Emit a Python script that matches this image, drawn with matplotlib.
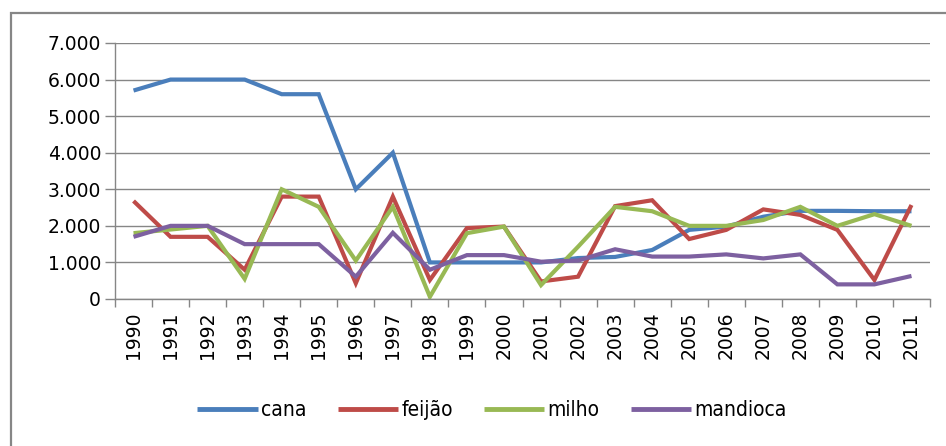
import matplotlib
matplotlib.use("Agg")
import matplotlib.pyplot as plt
from matplotlib.patches import Rectangle
from matplotlib.ticker import FuncFormatter, FixedLocator
from matplotlib import font_manager as fm

years = [str(y) for y in range(1990, 2012)]
cana = [5700, 6000, 6000, 6000, 5600, 5600, 3000, 4000, 1000, 1000, 1000,
        1000, 1120, 1150, 1340, 1890, 1980, 2250, 2410, 2410, 2400, 2400]
feijao = [2680, 1700, 1700, 800, 2800, 2800, 430, 2800, 520, 1940, 1980,
          480, 610, 2540, 2700, 1640, 1890, 2450, 2300, 1890, 520, 2570]
milho = [1800, 1900, 2000, 550, 3000, 2520, 1050, 2520, 60, 1800, 1980,
         380, 1430, 2520, 2400, 2000, 2000, 2160, 2520, 2000, 2320, 2000]
mandioca = [1700, 2000, 2000, 1500, 1500, 1500, 610, 1810, 800, 1200, 1200,
            1020, 1050, 1360, 1160, 1160, 1220, 1110, 1220, 400, 400, 630]

series = [("cana", cana, "#4A7EBB"), ("feijão", feijao, "#BE4B48"),
          ("milho", milho, "#98B954"), ("mandioca", mandioca, "#7D60A0")]

# pick a condensed face for the legend if one is installed
cond_path = None
for f in fm.fontManager.ttflist:
    if f.name in ("DejaVu Sans", "Liberation Sans Narrow") and "ondensed" in f.fname + str(f.stretch) or f.name == "Liberation Sans Narrow":
        if "Bold" not in f.fname and "Oblique" not in f.fname and "Italic" not in f.fname:
            cond_path = f.fname
            break
if cond_path:
    leg_prop = fm.FontProperties(fname=cond_path, size=15)
else:
    leg_prop = fm.FontProperties(family='DejaVu Sans', size=14)

fig = plt.figure(figsize=(9.46, 4.46), dpi=100)
ax = fig.add_axes([115/946, 1-299/446, (930-115)/946, (299-43)/446])

x = list(range(len(years)))
for name, vals, col in series:
    ax.plot(x, vals, color=col, lw=3.0, label=name, solid_joinstyle='miter', solid_capstyle='butt')

grid_c = "#868686"
ax.set_xlim(-0.5, len(years) - 0.5)
ax.set_ylim(0, 7000)
ax.set_yticks(range(0, 7001, 1000))
ax.yaxis.set_major_formatter(FuncFormatter(lambda v, p: "0" if v == 0 else f"{int(v):,}".replace(",", ".")))
ax.grid(axis='y', color=grid_c, lw=1.0)
ax.set_axisbelow(True)
ax.set_xticks(x)
ax.set_xticklabels(years, rotation=90)
ax.xaxis.set_minor_locator(FixedLocator([i - 0.5 for i in range(len(years) + 1)]))
ax.tick_params(axis='x', which='major', length=0, pad=9, labelsize=13.5, labelcolor='#000000')
ax.tick_params(axis='x', which='minor', length=6, width=1, color=grid_c)
ax.tick_params(axis='y', length=7, width=1, color=grid_c, pad=3, labelsize=13.5)
for s in ['top', 'right']:
    ax.spines[s].set_visible(False)
for s in ['left', 'bottom']:
    ax.spines[s].set_color(grid_c)
    ax.spines[s].set_linewidth(1.0)

leg = fig.legend(loc='center', bbox_to_anchor=(492/946, 1-410/446), ncol=4, frameon=False,
                 handlelength=2.9, handletextpad=0.15, columnspacing=1.5, prop=leg_prop)
for line in leg.get_lines():
    line.set_linewidth(3.5)

fig.patches.append(Rectangle((11/946, -0.1), 1.2, 1 - 13/446 + 0.1, transform=fig.transFigure,
                             fill=False, edgecolor=grid_c, lw=1.6))

fig.savefig("out.png", dpi=100)
